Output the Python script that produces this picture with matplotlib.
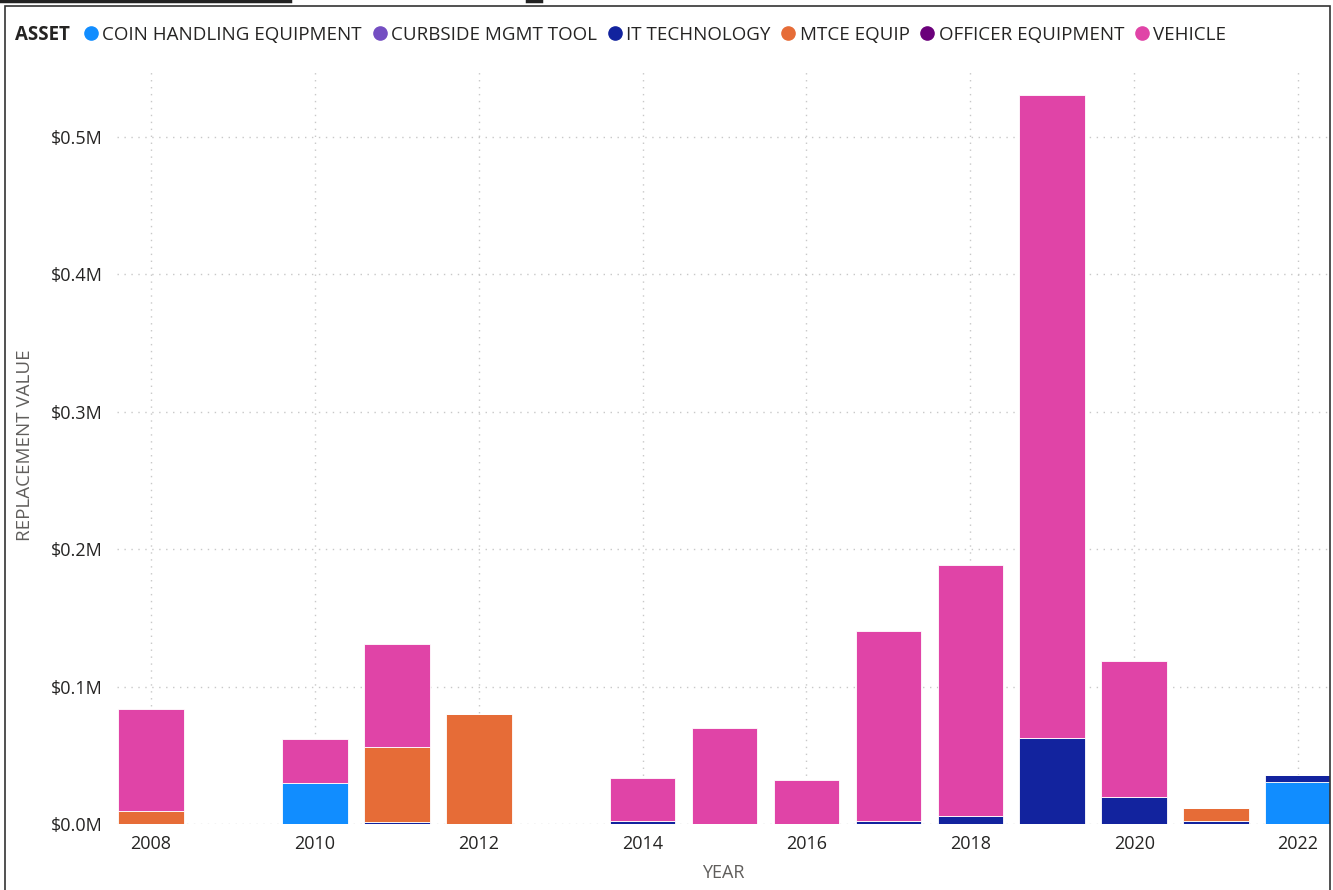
import numpy as np
import matplotlib
matplotlib.use('Agg')
import matplotlib.pyplot as plt
from matplotlib.lines import Line2D
from matplotlib.patches import Rectangle
from matplotlib.ticker import FuncFormatter

plt.rcParams['font.family'] = ['Open Sans', 'DejaVu Sans']

years = np.arange(2008, 2023)
assets = ['COIN HANDLING EQUIPMENT', 'CURBSIDE MGMT TOOL', 'IT TECHNOLOGY',
          'MTCE EQUIP', 'OFFICER EQUIPMENT', 'VEHICLE']
colors = ['#118DFF', '#744EC2', '#12239E', '#E66C37', '#6B007B', '#E044A7']

# replacement value in $M, one entry per year 2008..2022
coin     = [0, 0, 0.030, 0, 0, 0, 0, 0, 0, 0, 0, 0, 0, 0, 0.0303]
curbside = [0, 0, 0, 0, 0, 0, 0, 0, 0, 0, 0, 0, 0, 0, 0]
it_tech  = [0, 0, 0, 0.0012, 0, 0, 0.002, 0, 0, 0.002, 0.006, 0.0625, 0.0195, 0.002, 0.0056]
mtce     = [0.0092, 0, 0, 0.0551, 0.080, 0, 0, 0, 0, 0, 0, 0, 0, 0.0096, 0]
officer  = [0, 0, 0, 0, 0, 0, 0, 0, 0, 0, 0, 0, 0, 0, 0]
vehicle  = [0.0745, 0, 0.032, 0.0748, 0, 0, 0.0315, 0.070, 0.032, 0.1385, 0.1825, 0.468, 0.099, 0, 0]

series = [coin, curbside, it_tech, mtce, officer, vehicle]

fig = plt.figure(figsize=(13.33, 8.9), dpi=100)
ax = fig.add_axes([117/1333, 1 - 824/890, (1330-117)/1333, (824-68)/890])

bottom = np.zeros(len(years))
for vals, c, name in zip(series, colors, assets):
    vals = np.array(vals)
    ax.bar(years, vals, 0.8, bottom=bottom, color=c, edgecolor='#ffffff', linewidth=0.6, label=name, zorder=3)
    bottom += vals

ax.set_xlim(2007.585, 2022.39)
ax.set_ylim(0, 0.55)
ax.set_xticks(np.arange(2008, 2023, 2))
ax.set_yticks(np.arange(0, 0.51, 0.1))
ax.yaxis.set_major_formatter(FuncFormatter(lambda v, p: '${:.1f}M'.format(v)))
ax.tick_params(length=0, labelsize=13, colors='#252423')
ax.tick_params(axis='x', pad=8)
ax.tick_params(axis='y', pad=10)
for s in ax.spines.values():
    s.set_visible(False)
ax.grid(True, color='#c8c8c8', linestyle=(0, (1, 4)), linewidth=1, zorder=0)
ax.set_axisbelow(True)

fig.text(723/1333, 1 - 873/890, 'YEAR', ha='center', va='center', fontsize=13, color='#605E5C')
fig.text(25/1333, 1 - 445/890, 'REPLACEMENT VALUE', ha='center', va='center', rotation=90,
         fontsize=13.5, color='#605E5C')

# legend
fig.text(15/1333, 1 - 35/890, 'ASSET', ha='left', va='center', fontsize=13.5, fontweight='bold', color='#252423')
handles = [Line2D([], [], marker='o', linestyle='', markersize=9.5, color=c) for c in colors]
fig.legend(handles, assets, loc='center left', bbox_to_anchor=(80/1333, 1 - 35/890), ncol=6,
           frameon=False, fontsize=13.5, handletextpad=0.0, columnspacing=0.35, borderaxespad=0,
           borderpad=0, labelcolor='#252423', handlelength=1.2)

# outer frame
fig.patches.append(Rectangle((5/1333, -0.1), (1330-5)/1333, 1.1 - 6/890, transform=fig.transFigure,
                             fill=False, edgecolor='#333333', linewidth=1.2))
fig.lines.append(Line2D([0, 290/1333], [1 - 1/890, 1 - 1/890], transform=fig.transFigure, color='#222222', linewidth=2.5))
fig.lines.append(Line2D([527/1333, 541/1333], [1 - 1/890, 1 - 1/890], transform=fig.transFigure, color='#222222', linewidth=2.5))

fig.savefig('out.png', dpi=100)
